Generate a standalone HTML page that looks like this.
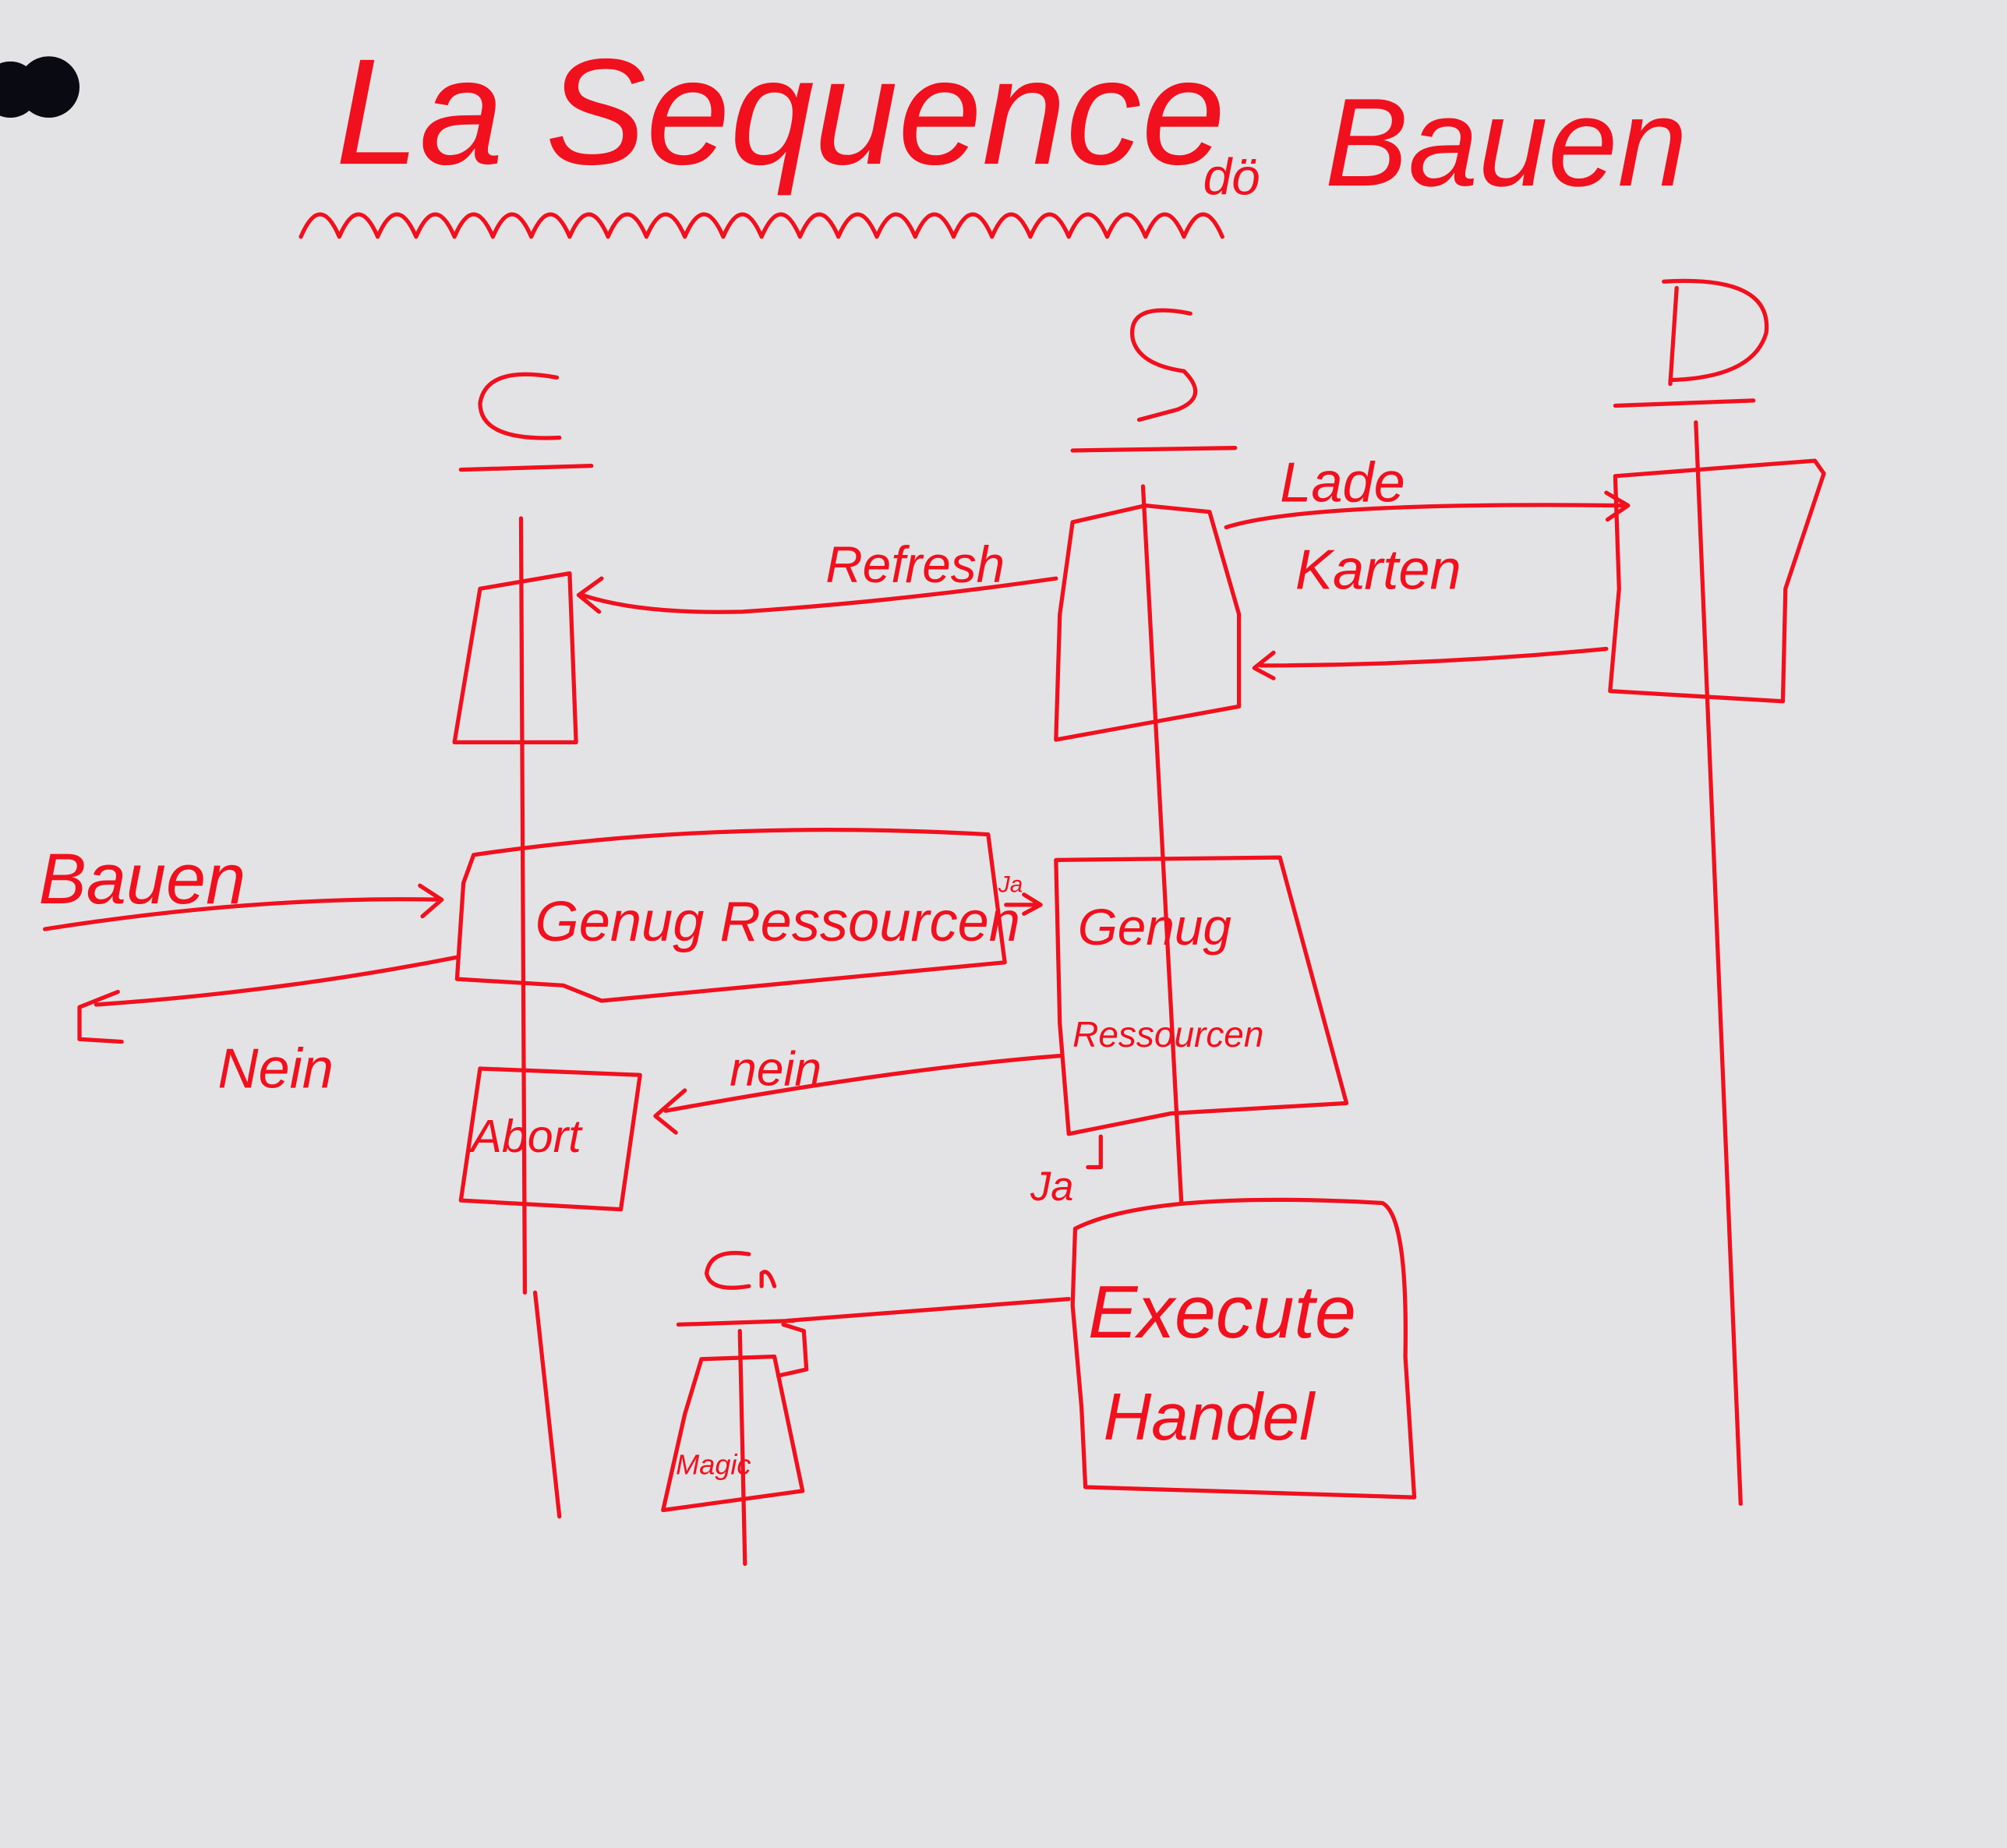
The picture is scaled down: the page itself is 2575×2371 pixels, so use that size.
<!DOCTYPE html>
<html><head><meta charset="utf-8"><style>
html,body{margin:0;padding:0;background:#e3e3e5;}
svg{display:block}
text{font-family:"Liberation Sans",sans-serif;fill:#f0101e;font-style:italic}
</style></head><body>
<svg width="2575" height="2371" viewBox="0 0 1568 1444" xmlns="http://www.w3.org/2000/svg">
<rect width="1568" height="1444" fill="#e3e3e5"/>
<circle cx="8" cy="70" r="22" fill="#0a0a12"/>
<circle cx="38" cy="68" r="24" fill="#0a0a12"/>
<g fill="none" stroke="#f0101e" stroke-width="3.2" stroke-linecap="round" stroke-linejoin="round">
<!-- wavy line -->
<path d="M235 185 q15 -35 30 0 q15 -35 30 0 q15 -35 30 0 q15 -35 30 0 q15 -35 30 0 q15 -35 30 0 q15 -35 30 0 q15 -35 30 0 q15 -35 30 0 q15 -35 30 0 q15 -35 30 0 q15 -35 30 0 q15 -35 30 0 q15 -35 30 0 q15 -35 30 0 q15 -35 30 0 q15 -35 30 0 q15 -35 30 0 q15 -35 30 0 q15 -35 30 0 q15 -35 30 0 q15 -35 30 0 q15 -35 30 0 q15 -35 30 0"/>
<!-- headers underlines -->
<path d="M360 367 L462 364"/>
<path d="M838 352 L965 350"/>
<path d="M1262 317 L1370 313"/>
<!-- C header -->
<path d="M435 295 Q380 285 375 315 Q375 345 437 342"/>
<!-- S header -->
<path d="M930 245 Q880 235 885 265 Q890 285 925 290 Q945 310 920 320 L890 328"/>
<!-- D header -->
<path d="M1310 225 L1305 300 M1300 220 Q1385 215 1380 260 Q1370 295 1305 297"/>
<!-- lifelines -->
<path d="M407 405 L410 1010 M418 1010 L437 1185"/>
<path d="M893 380 L923 940"/>
<path d="M1325 330 L1360 1175"/>
<path d="M578 1040 L582 1222"/>
<!-- C activation top -->
<path d="M375 460 L445 448 L450 580 L355 580 Z"/>
<!-- S activation top -->
<path d="M838 408 L895 395 L945 400 L968 480 L968 552 L825 578 L828 480 Z"/>
<!-- D activation -->
<path d="M1262 372 L1418 360 L1425 370 L1395 460 L1393 548 L1258 540 L1265 460 Z"/>
<!-- Refresh arrow -->
<path d="M825 452 Q700 470 580 478 Q500 480 455 465 M470 452 L452 465 L468 478"/>
<!-- Lade arrow -->
<path d="M958 412 Q1020 392 1270 395 M1255 385 L1272 395 L1256 406"/>
<!-- return from D -->
<path d="M1255 507 Q1120 520 985 520 M995 510 L980 522 L995 530"/>
<!-- Genug box C -->
<path d="M370 668 Q560 640 772 652 L785 752 L470 782 L440 770 L357 765 L362 690 Z"/>
<!-- Bauen arrow -->
<path d="M35 726 Q200 700 345 703 M328 692 L345 703 L330 716"/>
<path d="M357 748 Q220 775 75 785 M92 775 L62 787 L62 812 L95 814"/>
<!-- Ja arrow -->
<path d="M786 707 L812 707 M800 699 L813 707 L800 714"/>
<!-- Genug box S -->
<path d="M825 672 L1000 670 L1052 862 L915 870 L835 886 L828 800 Z"/>
<path d="M860 888 L860 912 L850 912"/>
<!-- nein arrow -->
<path d="M828 825 Q700 835 520 868 M535 852 L512 872 L528 885"/>
<!-- Abort box -->
<path d="M375 835 L500 840 L485 945 L360 938 Z"/>
<!-- Execute box -->
<path d="M840 960 Q900 930 1080 940 Q1100 950 1098 1060 L1105 1170 L848 1162 L845 1100 L838 1020 Z"/>
<!-- Cn header -->
<path d="M530 1035 L620 1032"/>
<path d="M585 980 Q555 975 552 995 Q555 1010 585 1005"/>
<path d="M595 1005 L595 995 Q600 990 605 1005"/>
<!-- Magic box -->
<path d="M548 1062 L605 1060 L627 1165 L518 1180 L535 1105 Z"/>
<path d="M612 1035 L628 1040 L630 1070 L608 1075"/>
<!-- Execute to Cn -->
<path d="M835 1015 L615 1032"/>
</g>
<text x="262" y="128" font-size="118" font-style="italic">La Sequence</text>
<text x="940" y="152" font-size="40">dö</text>
<text x="1035" y="145" font-size="98" font-style="normal">Bauen</text>
<text x="1000" y="392" font-size="44">Lade</text>
<text x="1012" y="460" font-size="44">Karten</text>
<text x="645" y="455" font-size="40">Refresh</text>
<text x="30" y="706" font-size="56">Bauen</text>
<text x="418" y="735" font-size="44">Genug Ressourcen</text>
<text x="780" y="697" font-size="18">Ja</text>
<text x="842" y="738" font-size="40">Genug</text>
<text x="838" y="818" font-size="28">Ressourcen</text>
<text x="170" y="850" font-size="44">Nein</text>
<text x="570" y="848" font-size="38">nein</text>
<text x="368" y="900" font-size="36">Abort</text>
<text x="805" y="938" font-size="32">Ja</text>
<text x="850" y="1045" font-size="58">Execute</text>
<text x="862" y="1125" font-size="52">Handel</text>
<text x="528" y="1152" font-size="22">Magic</text>
</svg>
</body></html>
